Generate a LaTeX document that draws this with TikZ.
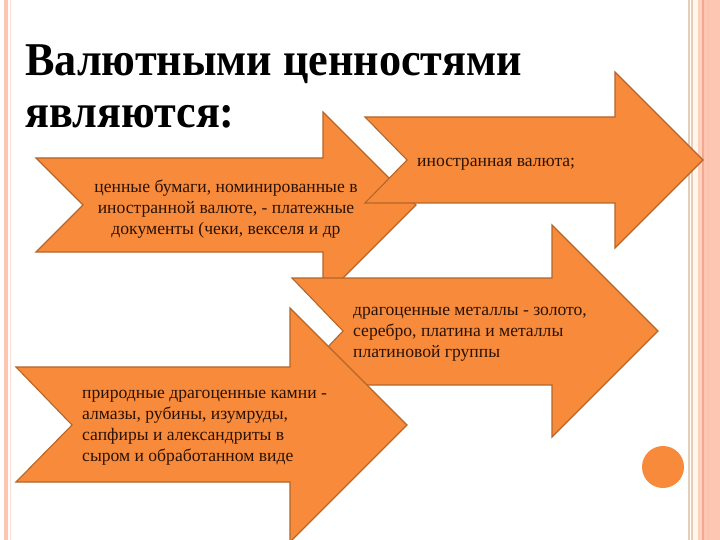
\documentclass[tikz,border=0pt]{standalone}
\usepackage{fontspec}
\setmainfont{Liberation Serif}
\newfontfamily\titleface[FakeStretch=0.94]{Liberation Serif}
\definecolor{arrowfill}{HTML}{F88B3B}
\definecolor{arrowline}{HTML}{B4652A}
\definecolor{salmon}{HTML}{FCC6B2}
\definecolor{salmondark}{HTML}{F3A98F}
\definecolor{tanline}{HTML}{E8CDB8}
\definecolor{cream}{HTML}{FFF6EA}
\definecolor{bodytext}{HTML}{2A1206}
\tikzset{
  arrowshape/.style={fill=arrowfill, draw=arrowline, line width=1.1pt, line join=miter},
  bodyfont/.style={font=\fontsize{17.6}{21}\selectfont, text=bodytext, inner sep=0pt},
  titlefont/.style={font=\titleface\fontsize{47}{52}\selectfont\bfseries, text=black, inner sep=0pt}
}
\begin{document}
\begin{tikzpicture}[x=1pt,y=-1pt]
\useasboundingbox (0,0) rectangle (720,540);
\clip (0,0) rectangle (720,540);
\fill[white] (0,0) rectangle (720,540);
% frame left
\fill[salmon] (4,0) rectangle (7.5,540);
\fill[salmon!60] (9.5,0) rectangle (10.5,540);
% frame right
\fill[tanline] (688,0) rectangle (689.5,540);
\fill[tanline] (691,0) rectangle (692.5,540);
\fill[cream] (692.5,0) rectangle (698,540);
\fill[salmon!80] (698,0) rectangle (702,540);
\fill[salmondark] (702,0) rectangle (703.5,540);
\fill[salmon] (703.5,0) rectangle (720,540);
\fill[salmondark!70] (707.5,0) rectangle (709,540);
% title
\node[titlefont, anchor=north west, align=left] (title) at (25,38.6)
  {\strut Валютными ценностями\\являются:};
% arrow 2 (securities)
\draw[arrowshape] (36,158) -- (323,158) -- (323,112) -- (416,205) -- (323,298)
  -- (323,252) -- (36,252) -- (83,205) -- cycle;
% arrow 1 (foreign currency)
\draw[arrowshape] (365,117) -- (615,117) -- (615,72) -- (703,160) -- (615,248)
  -- (615,203) -- (365,203) -- (407,160) -- cycle;
% arrow 3 (precious metals)
\draw[arrowshape] (292,278) -- (552,278) -- (552,225) -- (658,331) -- (552,437)
  -- (552,385) -- (292,385) -- (343,331) -- cycle;
% arrow 4 (precious stones)
\draw[arrowshape] (16,367) -- (290,367) -- (290,308) -- (407,425) -- (290,542)
  -- (290,482) -- (16,482) -- (72,425) -- cycle;
% texts
\node[bodyfont, anchor=north, align=center] (t2) at (226,177.3)
  {\strut ценные бумаги, номинированные в\\иностранной валюте, - платежные\\документы (чеки, векселя и др};
\node[bodyfont, anchor=base west] (t1) at (417,167) {иностранная валюта;};
\node[bodyfont, anchor=north west, align=left] (t3) at (353,300.3)
  {\strut драгоценные металлы - золото,\\серебро, платина и металлы\\платиновой группы};
\node[bodyfont, anchor=north west, align=left] (t4) at (82,383.3)
  {\strut природные драгоценные камни -\\алмазы, рубины, изумруды,\\сапфиры и александриты в\\сыром и обработанном виде};
% dot
\fill[arrowfill] (663,467) circle (21);
\end{tikzpicture}
\end{document}
